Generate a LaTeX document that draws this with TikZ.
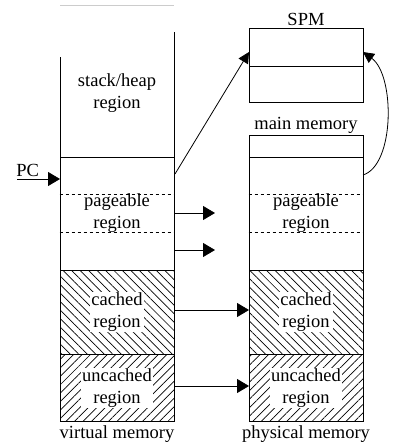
\documentclass[tikz,border=0pt]{standalone}
\usepackage{fontspec}
\setmainfont{Liberation Serif}
\usetikzlibrary{arrows.meta,patterns.meta}
\begin{document}
\begin{tikzpicture}[x=1pt,y=-1pt,line width=0.8pt,
  every node/.style={font=\fontsize{18.5}{21.5}\selectfont, inner sep=1pt},
  lbl/.style={align=center},
  wlbl/.style={align=center, fill=white},
  box/.style={draw, minimum width=114pt, inner sep=0pt},
  dsh/.style={dash pattern=on 3.5pt off 2.5pt, line width=0.7pt},
  hatchA/.style={pattern={Lines[angle=135,distance=6pt,line width=0.7pt]}},
  hatchB/.style={pattern={Lines[angle=45,distance=6pt,line width=0.7pt]}},
  arr/.style={-{Triangle[length=12pt,width=14pt]}},
  sarr/.style={-{Triangle[length=11pt,width=11pt]}}]
\useasboundingbox (0,0) rectangle (393,445);
% faint line at top
\draw[black!20, line width=0.8pt] (60,5) -- (174,5);

% ---------- virtual memory ----------
\draw (60,57) -- (60,157);
\draw (174,32) -- (174,157);
\node[box, minimum height=113.7pt] (vpage) at (117,213.85) {};
\node[box, minimum height=83.3pt, hatchA] (vcache) at (117,312.35) {};
\node[box, minimum height=67.7pt, hatchB] (vunc) at (117,387.85) {};
\draw[dsh] (vpage.west |- 0,194) -- (vpage.east |- 0,194);
\draw[dsh] (vpage.west |- 0,232) -- (vpage.east |- 0,232);
\node[lbl] (tstack) at (117,93) {stack/heap\\region};
\node[lbl] (tvpage) at (117,213) {pageable\\region};
\node[wlbl] (tvcache) at (117,312) {cached\\region};
\node[wlbl] (tvunc) at (117,388) {uncached\\region};
\node[lbl] (tvirt) at (117,434) {virtual memory};

% PC
\node[anchor=south west] (pc) at (15,178) {PC};
\coordinate (pcs) at (17,179);
\coordinate (pce) at (60,179);
\draw[arr] (pcs) -- (pce);

% ---------- SPM ----------
\node[box, minimum height=38pt] (spm1) at (306,47) {};
\node[box, minimum height=36pt] (spm2) at (306,84) {};
\node (tspm) at (306,19) {SPM};

% ---------- physical memory ----------
\node[box, minimum height=22pt] (ptop) at (306,146) {};
\node[box, minimum height=113.7pt] (ppage) at (306,213.85) {};
\node[box, minimum height=83.3pt, hatchA] (pcache) at (306,312.35) {};
\node[box, minimum height=67.7pt, hatchB] (punc) at (306,387.85) {};
\draw[dsh] (ppage.west |- 0,194) -- (ppage.east |- 0,194);
\draw[dsh] (ppage.west |- 0,232) -- (ppage.east |- 0,232);
\node (tmain) at (306,125) {main memory};
\node[lbl] (tppage) at (306,213) {pageable\\region};
\node[wlbl] (tpcache) at (306,312) {cached\\region};
\node[wlbl] (tpunc) at (306,388) {uncached\\region};
\node[lbl] (tphys) at (306,434) {physical memory};

% ---------- connectors ----------
\coordinate (a1s) at (174,213);
\coordinate (a1e) at (215,213);
\coordinate (a2s) at (174,250);
\coordinate (a2e) at (215,250);
\draw[arr] (a1s) -- (a1e);
\draw[arr] (a2s) -- (a2e);
\coordinate (cs) at (174,310);
\coordinate (ce) at (249,310);
\draw[arr] (cs) -- (ce);
\coordinate (us) at (174,386);
\coordinate (ue) at (249,386);
\draw[arr] (us) -- (ue);
\coordinate (ss) at (175,174);
\coordinate (se) at (249,52);
\draw[sarr] (ss) -- (se);
\coordinate (rs) at (363,175);
\coordinate (re) at (363,52);
\draw[sarr] (rs) .. controls (395,165) and (395,75) .. (re);
\end{tikzpicture}
\end{document}
